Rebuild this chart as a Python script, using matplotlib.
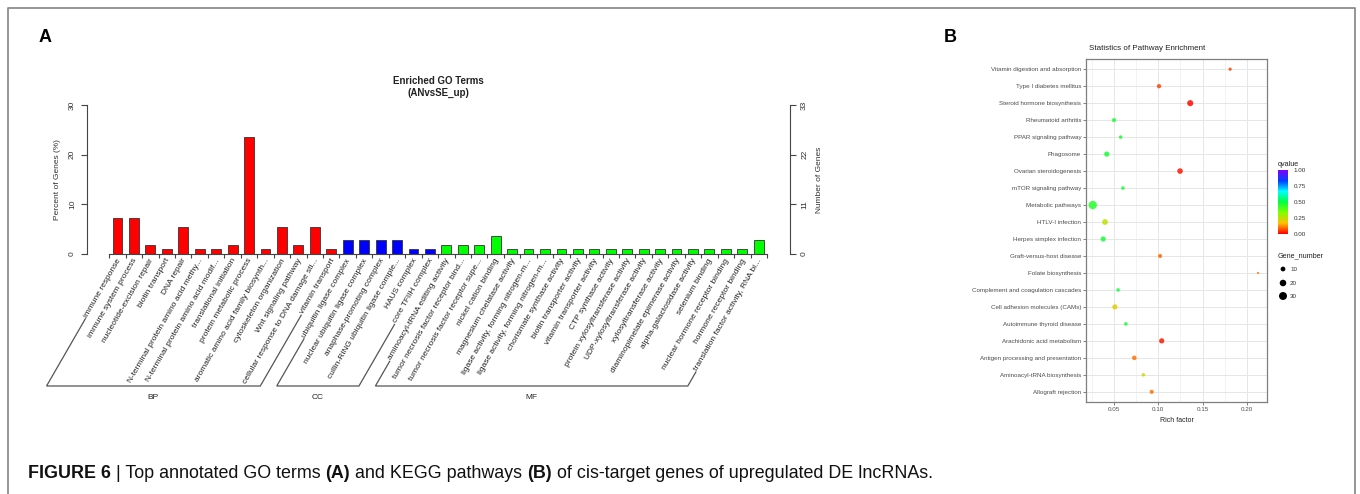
import numpy as np
import matplotlib
matplotlib.use('Agg')
import matplotlib.pyplot as plt
from matplotlib.colors import LinearSegmentedColormap, hsv_to_rgb

plt.rcParams['font.family'] = ['Liberation Sans', 'DejaVu Sans']

# ---- panel A data: enriched GO terms ----
go_terms = [
    'immune response', 'immune system process', 'nucleotide-excision repair',
    'biotin transport', 'DNA repair', 'N-terminal protein amino acid methy...',
    'N-terminal protein amino acid modif...', 'translational initiation',
    'protein metabolic process', 'aromatic amino acid family biosynth...',
    'cytoskeleton organization', 'Wnt signaling pathway',
    'cellular response to DNA damage sti...', 'vitamin transport',
    'ubiquitin ligase complex', 'nuclear ubiquitin ligase complex',
    'anaphase-promoting complex', 'cullin-RING ubiquitin ligase comple...',
    'HAUS complex', 'core TFIIH complex',
    'aminoacyl-tRNA editing activity', 'tumor necrosis factor receptor bind...',
    'tumor necrosis factor receptor supe...', 'nickel cation binding',
    'magnesium chelatase activity', 'ligase activity, forming nitrogen-m...',
    'ligase activity, forming nitrogen-m...', 'chorismate synthase activity',
    'biotin transporter activity', 'vitamin transporter activity',
    'CTP synthase activity', 'protein xylosyltransferase activity',
    'UDP-xylosyltransferase activity', 'xylosyltransferase activity',
    'diaminopimelate epimerase activity', 'alpha-galactosidase activity',
    'selenium binding', 'nuclear hormone receptor binding',
    'hormone receptor binding', 'translation factor activity, RNA bi...',
]
gene_counts = [8, 8, 2, 1, 6, 1, 1, 2, 26, 1, 6, 2, 6, 1,
               3, 3, 3, 3, 1, 1,
               2, 2, 2, 4, 1, 1, 1, 1, 1, 1, 1, 1, 1, 1, 1, 1, 1, 1, 1, 3]
total_genes = 110
group_names = ['BP', 'CC', 'MF']
group_sizes = [14, 6, 20]
group_colors = ['#FF0000', '#0000FF', '#00FF00']

# ---- panel B data: KEGG pathways (bottom to top) ----
pathways = [
    'Allograft rejection', 'Aminoacyl-tRNA biosynthesis',
    'Antigen processing and presentation', 'Arachidonic acid metabolism',
    'Autoimmune thyroid disease', 'Cell adhesion molecules (CAMs)',
    'Complement and coagulation cascades', 'Folate biosynthesis',
    'Graft-versus-host disease', 'Herpes simplex infection',
    'HTLV-I infection', 'Metabolic pathways', 'mTOR signaling pathway',
    'Ovarian steroidogenesis', 'Phagosome', 'PPAR signaling pathway',
    'Rheumatoid arthritis', 'Steroid hormone biosynthesis',
    'Type I diabetes mellitus', 'Vitamin digestion and absorption',
]
rich_factor = [0.0925, 0.0831, 0.0729, 0.1038, 0.0634, 0.051, 0.0546, 0.2125,
               0.102, 0.0378, 0.0398, 0.026, 0.060, 0.1245, 0.0418, 0.0575,
               0.050, 0.136, 0.1008, 0.181]
gene_number = [7, 5, 9, 12, 5, 12, 5, 1, 7, 12, 15, 33, 5, 14, 12, 5, 7, 17, 8, 4]
qvalue = [0.10, 0.24, 0.10, 0.02, 0.47, 0.20, 0.47, 0.09, 0.09, 0.47,
          0.25, 0.45, 0.47, 0.02, 0.47, 0.47, 0.47, 0.01, 0.06, 0.06]
size_breaks = [10, 20, 30]

W, H = 1360, 494
fig = plt.figure(figsize=(W / 100, H / 100), dpi=100)


def fx(px):
    return px / W


def fy(py):
    return 1 - py / H


def dot_size(n):
    return 2.25 + 1.06 * (np.asarray(n) - 1)


# ================= panel A =================
axA = fig.add_axes([fx(87), fy(254), fx(790) - fx(87), fy(105) - fy(254)])
x = np.arange(len(go_terms))
pct = np.array(gene_counts) / total_genes * 100
bar_colors = []
for c, n in zip(group_colors, group_sizes):
    bar_colors += [c] * n
axA.bar(x, pct, width=0.6, color=bar_colors, edgecolor='#333333', linewidth=0.6)
axA.set_xlim(-1.855, 40.9)
axA.set_ylim(0, 30)
for s in ['top', 'right']:
    axA.spines[s].set_visible(False)
axA.spines['bottom'].set_bounds(-0.5, len(x) - 0.5)
axA.spines['left'].set_color('#444444')
axA.spines['bottom'].set_color('#444444')
axA.set_xticks(np.arange(len(x) + 1) - 0.5)
axA.set_xticklabels([])
axA.tick_params(axis='x', length=3, color='#444444')
axA.set_yticks([0, 10, 20, 30])
axA.set_yticklabels(['0', '10', '20', '30'], rotation=90, va='center', fontsize=6, color='#333333')
axA.tick_params(axis='y', length=4, color='#444444', pad=4)
axA.set_ylabel('Percent of Genes (%)', fontsize=6, color='#333333', labelpad=6)

ax2 = axA.twinx()
ax2.set_ylim(0, 33)
for s in ['top', 'left', 'bottom']:
    ax2.spines[s].set_visible(False)
ax2.spines['right'].set_color('#444444')
ax2.set_yticks([0, 11, 22, 33])
ax2.set_yticklabels(['0', '11', '22', '33'], rotation=90, va='center', fontsize=6, color='#333333')
ax2.tick_params(axis='y', length=4, color='#444444', pad=4)
ax2.set_ylabel('Number of Genes', fontsize=6, color='#333333', labelpad=6)

labels = []
for i, t in enumerate(go_terms):
    labels.append(axA.text(i + 0.1, -1.0, t, rotation=60, ha='right', va='center',
                           rotation_mode='anchor', fontsize=6, color='#222222',
                           clip_on=False))

fig.text(fx(438), fy(81), 'Enriched GO Terms', ha='center', va='center',
         fontsize=7, fontweight='bold', color='#222222')
fig.text(fx(438), fy(93), '(ANvsSE_up)', ha='center', va='center',
         fontsize=7, fontweight='bold', color='#222222')
fig.text(fx(45), fy(37), 'A', ha='center', va='center', fontsize=13, fontweight='bold')
fig.text(fx(950), fy(37), 'B', ha='center', va='center', fontsize=13, fontweight='bold')

# ================= panel B =================
axB = fig.add_axes([fx(1086), fy(402), fx(1267) - fx(1086), fy(59) - fy(402)])
axB.set_xlim(0.0184, 0.2226)
axB.set_ylim(-0.6, len(pathways) - 0.4)
axB.set_xticks([0.05, 0.10, 0.15, 0.20])
axB.set_xticklabels(['0.05', '0.10', '0.15', '0.20'])
axB.set_xticks([0.025, 0.075, 0.125, 0.175], minor=True)
axB.set_yticks(np.arange(len(pathways)))
axB.set_yticklabels(pathways)
axB.grid(True, which='major', color='#E6E6E6', linewidth=0.7)
axB.grid(True, which='minor', axis='x', color='#EFEFEF', linewidth=0.5)
axB.set_axisbelow(True)
for s in axB.spines.values():
    s.set_color('#7F7F7F')
    s.set_linewidth(0.9)
axB.tick_params(which='major', labelsize=4.5, labelcolor='#4D4D4D', length=2,
                color='#4D4D4D', width=0.5, pad=1.5)
axB.tick_params(which='minor', length=0)

hues = np.linspace(0, 0.75, 7)
cmap = LinearSegmentedColormap.from_list(
    'qv', [hsv_to_rgb((h, 1, 1)) for h in hues])
sc = axB.scatter(rich_factor, np.arange(len(pathways)), s=dot_size(gene_number),
                 c=qvalue, cmap=cmap, vmin=0, vmax=1, linewidths=0, alpha=0.85, zorder=3)
axB.set_xlabel('Rich factor', fontsize=5, color='#222222', labelpad=4)
fig.text(fx(1147), fy(48), 'Statistics of Pathway Enrichment', ha='center',
         va='center', fontsize=5.8, color='#222222')

cax = fig.add_axes([fx(1278), fy(234), fx(1288) - fx(1278), fy(170) - fy(234)])
cb = fig.colorbar(sc, cax=cax, ticks=[0, 0.25, 0.5, 0.75, 1.0])
cb.solids.set_alpha(1)
cb.ax.set_yticklabels(['0.00', '0.25', '0.50', '0.75', '1.00'])
cb.outline.set_visible(False)
cb.ax.tick_params(labelsize=4.5, length=2, color='white', labelcolor='#333333', pad=2)
fig.text(fx(1278), fy(164), 'qvalue', ha='left', va='center', fontsize=5.2, color='#222222')

# ================= overlay =================
fig.canvas.draw()
r = fig.canvas.get_renderer()
ov = fig.add_axes([0, 0, 1, 1], zorder=-1)
ov.set_xlim(0, W)
ov.set_ylim(H, 0)
ov.axis('off')

# group brackets under the GO labels
y_h = 386
c60, s60 = np.cos(np.radians(60)), np.sin(np.radians(60))


def label_start(t):
    bb = t.get_window_extent(r)
    h = t.get_fontsize() * 100 / 72 * 1.15
    xs = bb.x0 + 0.433 * h - 3 * c60
    ys = bb.y0 + 0.25 * h - 3 * s60
    return xs, H - ys


start = 0
for name, n in zip(group_names, group_sizes):
    xa, ya = label_start(labels[start])
    xb, yb = label_start(labels[start + n - 1])
    xa0 = xa - (y_h - ya) / np.tan(np.radians(60))
    xb0 = xb - (y_h - yb) / np.tan(np.radians(60))
    ov.plot([xa, xa0, xb0, xb], [ya, y_h, y_h, yb], color='#555555', lw=0.9,
            solid_joinstyle='miter')
    ov.text((xa0 + xb0) / 2, 397, name, ha='center', va='center', fontsize=6, color='#222222')
    start += n

# size legend
fig.text(fx(1278), fy(256), 'Gene_number', ha='left', va='center', fontsize=5.2, color='#222222')
leg_y = [269, 283, 296]
ov.scatter([1283] * 3, leg_y, s=dot_size(size_breaks), color='black', linewidths=0)
for yy, b in zip(leg_y, size_breaks):
    ov.text(1290, yy, str(b), ha='left', va='center', fontsize=4.5, color='#333333')

# frame
ov.plot([8, 8, 1355, 1355], [H, 8, 8, H], color='#8C8C8C', lw=1.3)

# caption
pieces = [('FIGURE 6', 'bold'), (' | Top annotated GO terms ', 'normal'), ('(A)', 'bold'),
          (' and KEGG pathways ', 'normal'), ('(B)', 'bold'),
          (' of cis-target genes of upregulated DE lncRNAs.', 'normal')]
cx = 28
for txt, wt in pieces:
    t = ov.text(cx, 473, txt, ha='left', va='center', fontsize=12.9, fontweight=wt, color='#111111')
    cx += t.get_window_extent(r).width

fig.savefig('out.png', dpi=100)
